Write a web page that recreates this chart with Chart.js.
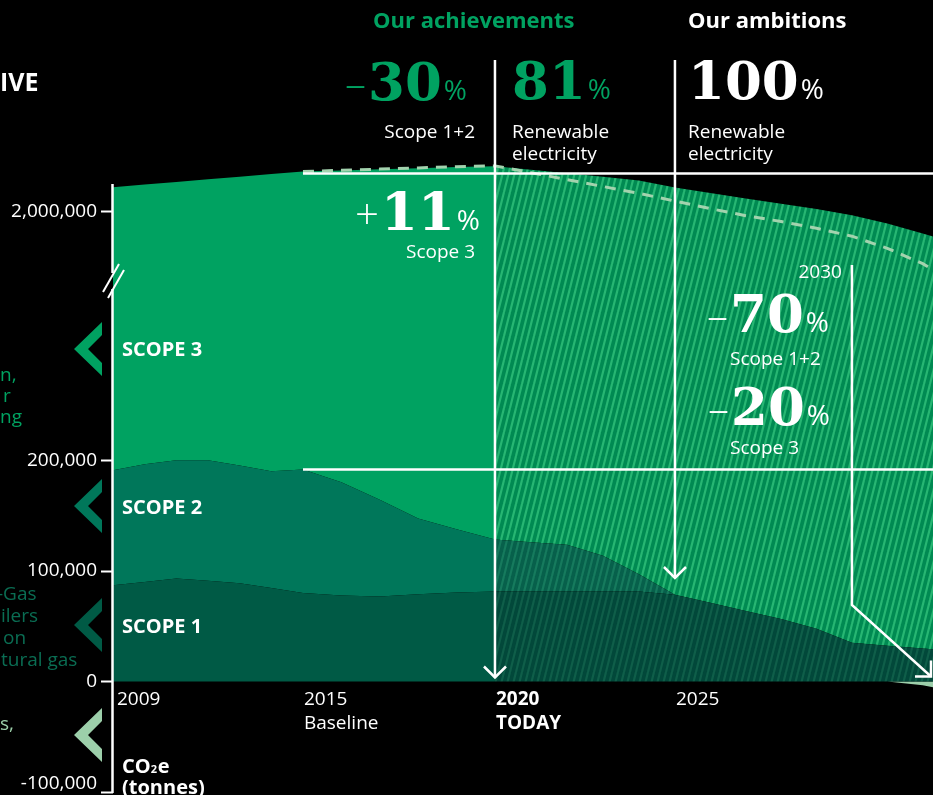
<!DOCTYPE html>
<html>
<head>
<meta charset="utf-8">
<title>CO2e emissions pathway</title>
<script src="https://cdn.jsdelivr.net/npm/chart.js@4.4.1/dist/chart.umd.min.js"></script>
<style>
  html, body { margin: 0; padding: 0; background: #000; }
  #wrap { position: relative; width: 933px; height: 795px; }
</style>
</head>
<body>
<div id="wrap"><canvas id="emissionsChart"></canvas></div>
<script>
// yearly values in tonnes CO2e
const years = [2009, 2010, 2011, 2012, 2013, 2014, 2015, 2016, 2017, 2018, 2019, 2020,
               2021, 2022, 2023, 2024, 2025, 2026, 2027, 2028, 2029, 2030, 2031, 2032, 2033];
const scope1 = [87100, 90100, 93200, 91100, 89000, 84700, 80200, 77900, 77000, 78900, 80600, 81400,
                81400, 81400, 81400, 81400, 78400, 71200, 63900, 56500, 47700, 35000, 32400, 29800, 27500];
const scope2 = [104100, 106500, 107800, 110700, 106500, 105500, 111700, 102400, 87400, 68600, 57100, 47100,
                44700, 42300, 32400, 15700, 0, 0, 0, 0, 0, 0, 0, 0, 0];
const scope3 = [1987400, 2000800, 2015300, 2033600, 2059100, 2083300, 2100400, 2119900, 2143800, 2168700, 2186900, 2202200,
                2179300, 2155600, 2139800, 2130700, 2098100, 2066200, 2033600, 2002700, 1973100, 1940900, 1882700, 1812900, 1742000];
const removals = [null, null, null, null, null, null, null, null, null, null, null, null,
                  null, null, null, null, null, null, null, null, null, null, 0, -3400, -10000];
// dashed reduction path for total emissions
const targetPath = [null, null, null, null, null, null, 2292300, 2301000, 2309700, 2318400, 2327400, 2332900,
                    2283600, 2233700, 2183700, 2134500, 2078000, 2023700, 1972300, 1930300, 1881800, 1823900, 1736300, 1624800, 1470000];

const yTicks = [-100000, 0, 100000, 200000, 2000000];
const xTickYears = [2009, 2015, 2020, 2025];
const xTickText = [['2009'], ['2015', 'Baseline'], ['2020', 'TODAY'], ['2025']];
const todayYear = 2020;
const baselineYear = 2015;

const GREEN3 = '#00a261';
const GREEN2 = '#00775a';
const GREEN1 = '#005a45';
const PALE = '#9ccfaa';
const SANS = '"Open Sans", "DejaVu Sans", sans-serif';

// scale with piecewise-linear spacing (broken y axis, uneven year spacing)
class PiecewiseScale extends Chart.LinearScale {
    static id = 'piecewise';
    static defaults = {};
    fwd(v) {
        const from = this.options.stops.from, to = this.options.stops.to;
        let i = 1;
        while (i < from.length - 1 && v > from[i]) i++;
        return to[i - 1] + (v - from[i - 1]) / (from[i] - from[i - 1]) * (to[i] - to[i - 1]);
    }
    inv(u) {
        const from = this.options.stops.from, to = this.options.stops.to;
        let i = 1;
        while (i < to.length - 1 && u > to[i]) i++;
        return from[i - 1] + (u - to[i - 1]) / (to[i] - to[i - 1]) * (from[i] - from[i - 1]);
    }
    configure() {
        super.configure();
        this._startValue = this.fwd(this.min);
        this._endValue = this.fwd(this.max);
        this._valueRange = this._endValue - this._startValue;
    }
    getPixelForValue(value) {
        if (value === null || value === undefined) return NaN;
        return this.getPixelForDecimal((this.fwd(value) - this._startValue) / this._valueRange);
    }
    getValueForPixel(pixel) {
        return this.inv(this._startValue + this.getDecimalForPixel(pixel) * this._valueRange);
    }
}
Chart.register(PiecewiseScale);

// diagonal stripes used for the projected years
function stripes(base, stripe) {
    const c = document.createElement('canvas');
    c.width = 6; c.height = 24;
    const g = c.getContext('2d');
    g.fillStyle = base;
    g.fillRect(0, 0, 6, 24);
    g.strokeStyle = stripe;
    g.lineWidth = 2.2;
    for (const x0 of [-6, 0, 6]) {
        g.beginPath(); g.moveTo(x0, 24); g.lineTo(x0 + 6, 0); g.stroke();
    }
    return g.createPattern(c, 'repeat');
}
const hatch3 = stripes('#008a52', '#27b673');
const hatch2 = stripes('#07604b', '#167a5d');
const hatch1 = stripes('#02483a', '#0f5e49');

const projected = pattern => ctx => years[ctx.p0DataIndex] >= todayYear ? pattern : undefined;
const pts = arr => years.map((yr, i) => ({x: yr, y: arr[i]}));
const fmt = v => v.toLocaleString('en-US');

function txt(ctx, s, x, y, font, color, align) {
    ctx.font = font;
    ctx.fillStyle = color;
    ctx.textAlign = align || 'left';
    ctx.textBaseline = 'alphabetic';
    ctx.fillText(s, x, y);
}

function figure(ctx, sign, digits, left, base, color) {
    if (sign) txt(ctx, sign, left - 2, base - 1, '300 42px ' + SANS, color, 'right');
    txt(ctx, digits, left, base, 'bold 53px "DejaVu Serif", serif', color);
    const w = ctx.measureText(digits).width;
    txt(ctx, '%', left + w + 2, base, '28px ' + SANS, color);
}

function polyline(ctx, p, w) {
    ctx.beginPath();
    ctx.moveTo(p[0][0], p[0][1]);
    for (let i = 1; i < p.length; i++) ctx.lineTo(p[i][0], p[i][1]);
    ctx.lineWidth = w || 2.5;
    ctx.strokeStyle = '#fff';
    ctx.stroke();
}

function chevron(ctx, cy, color) {
    ctx.beginPath();
    ctx.moveTo(102, cy - 27); ctx.lineTo(74, cy); ctx.lineTo(102, cy + 27);
    ctx.lineTo(102, cy + 14); ctx.lineTo(88, cy); ctx.lineTo(102, cy - 14);
    ctx.closePath();
    ctx.fillStyle = color;
    ctx.fill();
}

const decor = {
    id: 'decor',
    beforeDraw(chart) {
        const ctx = chart.ctx;
        ctx.save();
        ctx.fillStyle = '#000';
        ctx.fillRect(0, 0, chart.width, chart.height);
        ctx.restore();
    },
    afterDatasetsDraw(chart) {
        const ctx = chart.ctx;
        const x = chart.scales.x, y = chart.scales.y;
        const bi = years.indexOf(baselineYear);
        const xToday = x.getPixelForValue(todayYear);
        const x2025 = x.getPixelForValue(2025);
        const x2030 = x.getPixelForValue(2030);
        const xBase = x.getPixelForValue(baselineYear);
        const right = chart.chartArea.right;
        const yBaseTotal = y.getPixelForValue(scope1[bi] + scope2[bi] + scope3[bi]) + 2;
        const yBase12 = y.getPixelForValue(scope1[bi] + scope2[bi]);
        ctx.save();
        ctx.lineCap = 'butt';

        // baseline reference lines
        polyline(ctx, [[xBase, yBaseTotal], [right, yBaseTotal]]);
        polyline(ctx, [[xBase, yBase12], [right, yBase12]]);

        // arrows
        const y0 = y.getPixelForValue(0);
        polyline(ctx, [[xToday, 60], [xToday, y0 - 4]]);
        polyline(ctx, [[xToday - 11, y0 - 15], [xToday, y0 - 4], [xToday + 11, y0 - 15]]);
        polyline(ctx, [[x2025, 60], [x2025, 578]]);
        polyline(ctx, [[x2025 - 11, 567], [x2025, 578], [x2025 + 11, 567]]);
        polyline(ctx, [[x2030, 265], [x2030, 605], [right - 2, y0 - 5]]);
        polyline(ctx, [[right - 18, y0 - 5], [right - 2, y0 - 5], [right - 2, y0 - 21]]);

        // y axis line with break marks
        const ax = chart.chartArea.left - 0.5;
        polyline(ctx, [[ax, 184], [ax, 273]]);
        polyline(ctx, [[ax, 289], [ax, chart.chartArea.bottom + 1]]);
        polyline(ctx, [[103, 292], [119, 264]], 2);
        polyline(ctx, [[108, 298], [124, 270]], 2);
        // lowest tick label sits just above its tick so it is not cut by the edge
        txt(ctx, fmt(yTicks[0]), 97, 789, '19px ' + SANS, '#fff', 'right');

        // headers
        txt(ctx, 'Our achievements', 373, 28, 'bold 22px ' + SANS, GREEN3);
        txt(ctx, 'Our ambitions', 688, 28, 'bold 22px ' + SANS, '#fff');
        txt(ctx, 'IVE', 0, 91, 'bold 25px ' + SANS, '#fff');

        figure(ctx, '\u2013', '30', 368, 100, GREEN3);
        txt(ctx, 'Scope 1+2', 475, 138, '19px ' + SANS, '#fff', 'right');
        figure(ctx, '', '81', 512, 99, GREEN3);
        txt(ctx, 'Renewable', 512, 138, '19px ' + SANS, '#fff');
        txt(ctx, 'electricity', 512, 160, '19px ' + SANS, '#fff');
        figure(ctx, '', '100', 688, 99, '#fff');
        txt(ctx, 'Renewable', 688, 138, '19px ' + SANS, '#fff');
        txt(ctx, 'electricity', 688, 160, '19px ' + SANS, '#fff');

        figure(ctx, '+', '11', 381, 230, '#fff');
        txt(ctx, 'Scope 3', 475, 258, '19px ' + SANS, '#fff', 'right');

        txt(ctx, '2030', x2030 - 10, 278, '19px ' + SANS, '#fff', 'right');
        figure(ctx, '\u2013', '70', 730, 332, '#fff');
        txt(ctx, 'Scope 1+2', 730, 365, '19px ' + SANS, '#fff');
        figure(ctx, '\u2013', '20', 731, 425, '#fff');
        txt(ctx, 'Scope 3', 730, 454, '19px ' + SANS, '#fff');

        // scope labels and chevrons
        txt(ctx, 'SCOPE 3', 122, 356, 'bold 20px ' + SANS, '#fff');
        txt(ctx, 'SCOPE 2', 122, 514, 'bold 20px ' + SANS, '#fff');
        txt(ctx, 'SCOPE 1', 122, 633, 'bold 20px ' + SANS, '#fff');
        chevron(ctx, 349, GREEN3);
        chevron(ctx, 506, GREEN2);
        chevron(ctx, 625, GREEN1);
        chevron(ctx, 735, PALE);

        // cut-off side notes
        txt(ctx, 'n,', 0, 381, '19px ' + SANS, GREEN3);
        txt(ctx, 'r', 3, 402, '19px ' + SANS, GREEN3);
        txt(ctx, 'ng', 0, 423, '19px ' + SANS, GREEN3);
        txt(ctx, '-Gas', -3, 600, '19px ' + SANS, '#0a6d53');
        txt(ctx, 'ilers', 1, 622, '19px ' + SANS, '#0a6d53');
        txt(ctx, 'on', 3, 644, '19px ' + SANS, '#0a6d53');
        txt(ctx, 'tural gas', 1, 666, '19px ' + SANS, '#0a6d53');
        txt(ctx, 's,', 0, 730, '19px ' + SANS, PALE);

        // x axis labels
        xTickYears.forEach((yr, i) => {
            const px = x.getPixelForValue(yr) + (i === 0 ? 4 : 1);
            const bold = yr === todayYear;
            xTickText[i].forEach((s, j) => {
                txt(ctx, s, px, 705 + j * 24, (bold ? 'bold ' : '') + '19px ' + SANS, '#fff');
            });
        });

        // unit
        txt(ctx, 'CO', 122, 773, 'bold 20px ' + SANS, '#fff');
        const coW = ctx.measureText('CO').width;
        txt(ctx, '2', 122 + coW, 773, 'bold 11px ' + SANS, '#fff');
        txt(ctx, 'e', 122 + coW + 7, 773, 'bold 20px ' + SANS, '#fff');
        txt(ctx, '(tonnes)', 122, 794, 'bold 20px ' + SANS, '#fff');
        ctx.restore();
    }
};

const ctx = document.getElementById('emissionsChart').getContext('2d');
const emissionsChart = new Chart(ctx, {
    type: 'line',
    data: {
        datasets: [
            {
                label: 'Reduction path',
                data: pts(targetPath),
                stack: 'target',
                borderColor: '#a3d3ae',
                borderWidth: 3,
                borderDash: [11, 8],
                fill: false
            },
            {
                label: 'Scope 1',
                data: pts(scope1),
                backgroundColor: GREEN1,
                fill: 'origin',
                segment: { backgroundColor: projected(hatch1) }
            },
            {
                label: 'Scope 2',
                data: pts(scope2),
                backgroundColor: GREEN2,
                fill: '-1',
                segment: { backgroundColor: projected(hatch2) }
            },
            {
                label: 'Scope 3',
                data: pts(scope3),
                backgroundColor: GREEN3,
                fill: '-1',
                segment: { backgroundColor: projected(hatch3) }
            },
            {
                label: 'Removals',
                data: pts(removals),
                stack: 'removals',
                backgroundColor: PALE,
                fill: 'origin'
            }
        ]
    },
    options: {
        responsive: true,
        maintainAspectRatio: false,
        animation: false,
        layout: { padding: { top: 0, right: 0, bottom: 3, left: 0 } },
        elements: {
            point: { radius: 0 },
            line: { tension: 0, borderWidth: 0 }
        },
        plugins: {
            legend: { display: false },
            tooltip: { enabled: false }
        },
        scales: {
            x: {
                type: 'piecewise',
                stops: { from: [2009, 2015, 2020, 2025, 2030, 2035], to: [0, 190, 382, 562, 739, 916] },
                min: 2009,
                max: 2032.29,
                bounds: 'data',
                display: false
            },
            y: {
                type: 'piecewise',
                stacked: true,
                stops: { from: [-100000, 200000, 2000000, 4000000], to: [-100000, 200000, 425000, 675000] },
                min: -100000,
                max: 3534000,
                bounds: 'data',
                afterBuildTicks: scale => { scale.ticks = yTicks.map(v => ({ value: v })); },
                afterFit: scale => { scale.width = 113; scale.paddingTop = 0; scale.paddingBottom = 0; },
                border: { display: false },
                grid: {
                    drawOnChartArea: false,
                    drawTicks: true,
                    tickLength: 12,
                    tickWidth: 2,
                    tickColor: '#fff'
                },
                ticks: {
                    color: '#fff',
                    padding: 4,
                    font: { family: SANS, size: 19 },
                    callback: v => v === yTicks[0] ? '' : fmt(v)
                }
            }
        }
    },
    plugins: [decor]
});
</script>
</body>
</html>
